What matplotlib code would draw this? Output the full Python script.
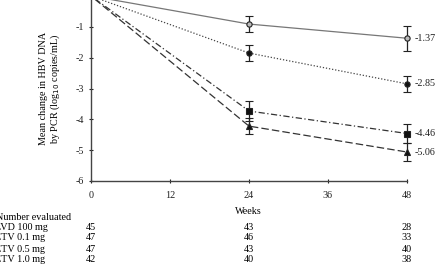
import matplotlib
matplotlib.use("Agg")
import matplotlib.pyplot as plt
import matplotlib.transforms as mtransforms

plt.rcParams['font.family'] = ['Liberation Serif', 'DejaVu Serif']

# data
weeks = [0, 24, 48]
groups = ["LVD 100 mg", "ETV 0.1 mg", "ETV 0.5 mg", "ETV 1.0 mg"]
lvd = [0, -0.91, -1.37]
etv01 = [0, -1.85, -2.85]
etv05 = [0, -3.73, -4.46]
etv10 = [0, -4.22, -5.06]
lvd_err = [0, 0.25, 0.40]
etv01_err = [0, 0.26, 0.27]
etv05_err = [0, 0.32, 0.30]
etv10_err = [0, 0.25, 0.28]
n_evaluated = [
    [45, 43, 28],
    [47, 46, 33],
    [47, 43, 40],
    [42, 40, 38],
]
xticks = [0, 12, 24, 36, 48]
yticks = [-1, -2, -3, -4, -5, -6]

W, H = 439, 270
fig = plt.figure(figsize=(W / 100, H / 100), dpi=100)
ax = fig.add_axes([91 / W, 89 / H, (407 - 91) / W, (185) / H])

series = [
    (lvd, lvd_err, "-", "o", "#bbbbbb", "#777777"),
    (etv01, etv01_err, (0, (1, 1.5)), "o", "#111111", "#444444"),
    (etv05, etv05_err, (0, (5, 2, 1, 2)), "s", "#111111", "#333333"),
    (etv10, etv10_err, (0, (6, 2.5)), "^", "#111111", "#333333"),
]
for vals, err, ls, mk, mfc, col in series:
    ax.plot(weeks, vals, linestyle=ls, color=col, lw=0.9, zorder=2, clip_on=False)
    eb = ax.errorbar(weeks[1:], vals[1:], yerr=err[1:], fmt=mk, ms=3.8, mfc=mfc,
                     mec="#222222", mew=0.8, ecolor="#222222", elinewidth=0.9,
                     capsize=3, capthick=0.9, zorder=3)
    arts = [eb.lines[0]] + list(eb.lines[1]) + list(eb.lines[2])
    for art in arts:
        art.set_clip_on(False)
    ax.text(49.2, vals[-1], f"{vals[-1]:.2f}", fontsize=7.3, va="center",
            ha="left", color="#222222")

ax.set_xlim(0, 48)
ax.set_ylim(-6, 0)
ax.set_xticks(xticks)
ax.set_yticks(yticks)
ax.set_yticklabels([str(t) for t in yticks])
ax.tick_params(labelsize=7.3, length=2.5, width=0.8, colors="#222222", direction="inout")
ax.tick_params(axis="x", pad=6)
for s in ["top", "right"]:
    ax.spines[s].set_visible(False)
for s in ["left", "bottom"]:
    ax.spines[s].set_color("#444444")
    ax.spines[s].set_linewidth(1.0)

ax.set_ylabel("Mean change in HBV DNA\nby PCR (log$_{10}$ copies/mL)", fontsize=7.3,
              linespacing=1.1, labelpad=10)

# table under the chart
trans = mtransforms.blended_transform_factory(ax.transData, fig.transFigure)
fig.text(250 / W - 0.004, 1 - 212 / H, "Weeks", fontsize=7.3, ha="center", va="center")
fig.text(-4 / W, 1 - 217 / H, "Number evaluated", fontsize=7.3, ha="left", va="center")
row_y = [228, 238, 249, 260]
for name, counts, y in zip(groups, n_evaluated, row_y):
    fig.text(-5 / W, 1 - y / H, name, fontsize=7.3, ha="left", va="center")
    for wk, c in zip(weeks, counts):
        ax.text(wk, 1 - y / H, str(c), fontsize=7.3, ha="center", va="center",
                transform=trans)

fig.savefig("out.png", dpi=100)
